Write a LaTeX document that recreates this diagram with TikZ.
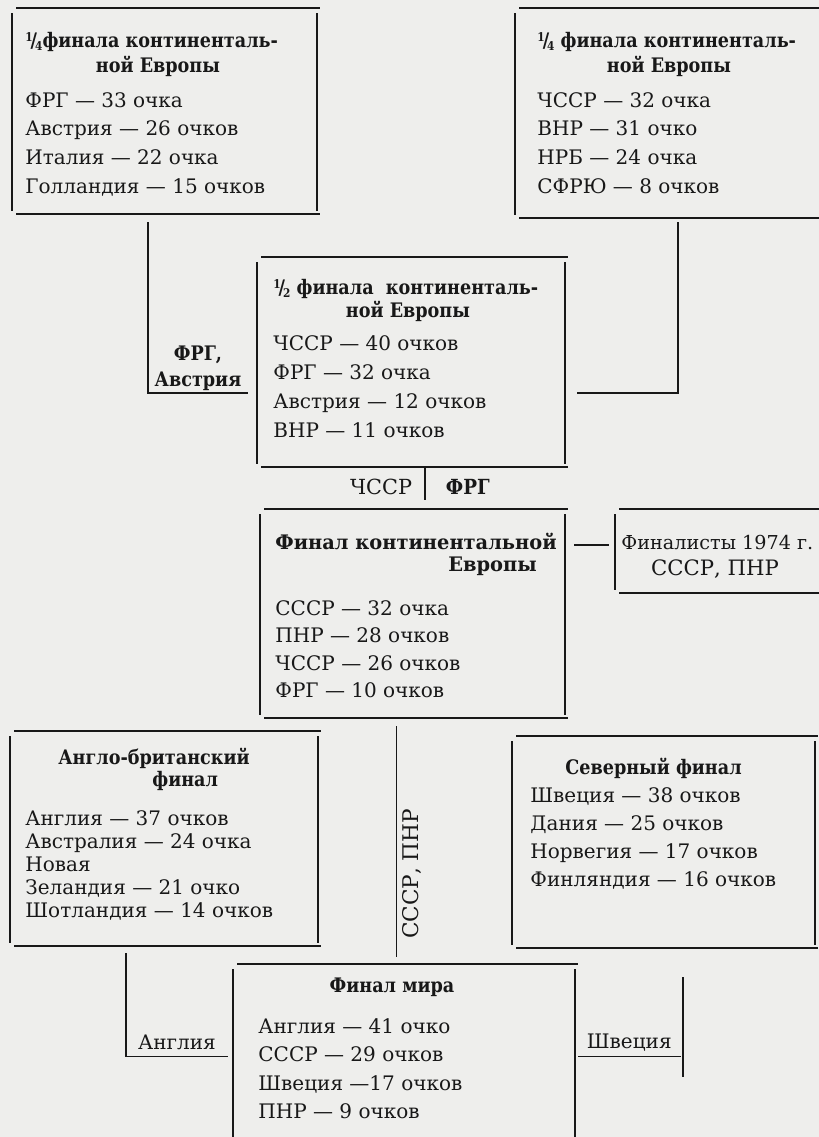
\documentclass[tikz,border=0pt]{standalone}
\usepackage{fontspec}
\setmainfont{DejaVu Serif}[BoldFeatures={FakeStretch=0.88}]
\newfontfamily\widehead{DejaVu Serif}[BoldFeatures={FakeStretch=0.97}]
\usetikzlibrary{fit,calc}
\definecolor{ink}{RGB}{24,24,24}
\definecolor{paper}{RGB}{238,238,236}
\newcommand{\partfrac}[2]{\raisebox{.55ex}{\fontsize{6}{6}\selectfont#1}\kern-.1em/\kern-.1em\raisebox{-.3ex}{\fontsize{6}{6}\selectfont#2}}
\tikzset{
  rule/.style={draw=ink, line width=0.95pt},
  frame/.style={inner sep=0pt, outer sep=0pt},
  entry/.style={anchor=base west, inner sep=0pt, text=ink, font=\fontsize{10}{12}\selectfont},
  head/.style={entry, font=\fontsize{10}{12}\selectfont\bfseries},
}
\begin{document}
\begin{tikzpicture}[x=0.5pt, y=-0.5pt]
  \useasboundingbox (0,0) rectangle (819,1137);
  \fill[paper] (0,0) rectangle (819,1137);

  % boxes of the rounds
  \node[frame, fit={(12,8) (317,214)}] (qa) {};
  \node[frame, fit={(515,8) (841,218)}] (qb) {};
  \node[frame, fit={(257,257) (565,467)}] (semi) {};
  \node[frame, fit={(260,509) (565,718)}] (fin) {};
  \node[frame, fit={(615,509) (840,593)}] (fin74) {};
  \node[frame, fit={(10,731) (318,946)}] (ab) {};
  \node[frame, fit={(512,736) (815,948)}] (north) {};
  \node[frame, fit={(233,964) (575,1149)}] (world) {};
  \foreach \b in {qa,qb,semi,fin,fin74,ab,north,world}{
    \draw[rule] ([shift={(4,0)}]\b.north west) -- ([shift={(3,0)}]\b.north east);
    \draw[rule] ([shift={(0,5)}]\b.north west) -- ([shift={(0,-3)}]\b.south west);
    \draw[rule] ([shift={(0,5)}]\b.north east) -- ([shift={(0,-3)}]\b.south east);
    \draw[rule] ([shift={(4,0)}]\b.south west) -- ([shift={(3,0)}]\b.south east);
  }

  % quarter finals
  \node[head] (qa-t1) at (25,47) {\partfrac14финала континенталь-};
  \node[head, anchor=base] (qa-t2) at (158,72) {ной Европы};
  \foreach \t [count=\i from 0] in {ФРГ — 33 очка, Австрия — 26 очков, Италия — 22 очка, Голландия — 15 очков}
    \node[entry] (qa-\i) at (25,{107+28.7*\i}) {\t};
  \node[head] (qb-t1) at (537,47) {\partfrac14 финала континенталь-};
  \node[head, anchor=base] (qb-t2) at (669,72) {ной Европы};
  \foreach \t [count=\i from 0] in {ЧССР — 32 очка, ВНР — 31 очко, НРБ — 24 очка, СФРЮ — 8 очков}
    \node[entry] (qb-\i) at (537,{107+28.7*\i}) {\t};

  % semi final
  \node[head] (semi-t1) at (273,294) {\partfrac12 финала\ \ континенталь-};
  \node[head, anchor=base] (semi-t2) at (408,317) {ной Европы};
  \foreach \t [count=\i from 0] in {ЧССР — 40 очков, ФРГ — 32 очка, Австрия — 12 очков, ВНР — 11 очков}
    \node[entry] (semi-\i) at (273,{350+29*\i}) {\t};

  % final of continental Europe
  \node[head, font=\fontsize{10}{12}\selectfont\widehead\bfseries] (fin-t1) at (275,549) {Финал континентальной};
  \node[head, font=\fontsize{10}{12}\selectfont\widehead\bfseries] (fin-t2) at (448,571) {Европы};
  \foreach \t [count=\i from 0] in {СССР — 32 очка, ПНР — 28 очков, ЧССР — 26 очков, ФРГ — 10 очков}
    \node[entry] (fin-\i) at (275,{615+27.5*\i}) {\t};
  \node[entry, font=\fontsize{9.6}{12}\selectfont] (fin74-t) at (621,549) {Финалисты 1974 г.};
  \node[entry, anchor=base, font=\fontsize{10.6}{12}\selectfont] (fin74-1) at (715,575) {СССР, ПНР};

  % Anglo-British and Northern finals
  \node[head] (ab-t1) at (58,764) {Англо-британский};
  \node[head] (ab-t2) at (152,786) {финал};
  \foreach \t [count=\i from 0] in {Англия — 37 очков, Австралия — 24 очка, Новая, Зеландия — 21 очко, Шотландия — 14 очков}
    \node[entry] (ab-\i) at (25,{825+23*\i}) {\t};
  \node[head] (north-t) at (565,774) {Северный финал};
  \foreach \t [count=\i from 0] in {Швеция — 38 очков, Дания — 25 очков, Норвегия — 17 очков, Финляндия — 16 очков}
    \node[entry] (north-\i) at (530,{802+28*\i}) {\t};

  % world final
  \node[head, anchor=base] (world-t) at (392,992) {Финал мира};
  \foreach \t [count=\i from 0] in {Англия — 41 очко, СССР — 29 очков, Швеция —17 очков, ПНР — 9 очков}
    \node[entry] (world-\i) at (258,{1033+28.5*\i}) {\t};

  % who goes on
  \draw[rule] ([shift={(-16.5,8)}]qa.south) |- ([shift={(-9,31)}]semi.west)
    node[pos=.75, head, anchor=base, yshift=3.5pt] (lab-at) {Австрия};
  \node[head, anchor=base] (lab-frg) at ([yshift=13pt]lab-at.base) {ФРГ,};
  \draw[rule] ([shift={(0,4)}]qb.south) |- ([shift={(12,31)}]semi.east);
  \draw[rule] ([shift={(14,1)}]semi.south) -- ([shift={(12.5,-9)}]fin.north)
    node[midway, entry, anchor=base east, xshift=-6pt, yshift=-5pt, font=\fontsize{10.4}{12}\selectfont] (lab-cs) {ЧССР}
    node[midway, head, anchor=base west, xshift=10pt, yshift=-5pt, font=\fontsize{10.4}{12}\selectfont\bfseries] (lab-fr) {ФРГ};
  \draw[rule] ($(fin74.west -| fin.east)+(9,-6)$) -- ($(fin74.west)+(-6,-6)$);
  \draw[rule] ($(fin.south)+(-16,8)$) -- ($(world.north)+(-7.5,-7)$)
    node[pos=.64, entry, anchor=north, rotate=90, inner sep=2.5pt, font=\fontsize{10.8}{12}\selectfont] (lab-su) {СССР, ПНР};
  \draw[rule] ($(ab.south)+(-38,7)$) |- ($(world.west)+(-5,0)$)
    node[pos=.75, entry, anchor=base, yshift=3.5pt] (lab-en) {Англия};
  \draw[rule] ($(north.south)+(19.5,29)$) -- ++(0,100);
  \draw[rule] ($(world.east)+(3,0)$) -- ($(north.south)+(17,108.5)$)
    node[midway, entry, anchor=base, yshift=4pt] (lab-se) {Швеция};
\end{tikzpicture}
\end{document}
